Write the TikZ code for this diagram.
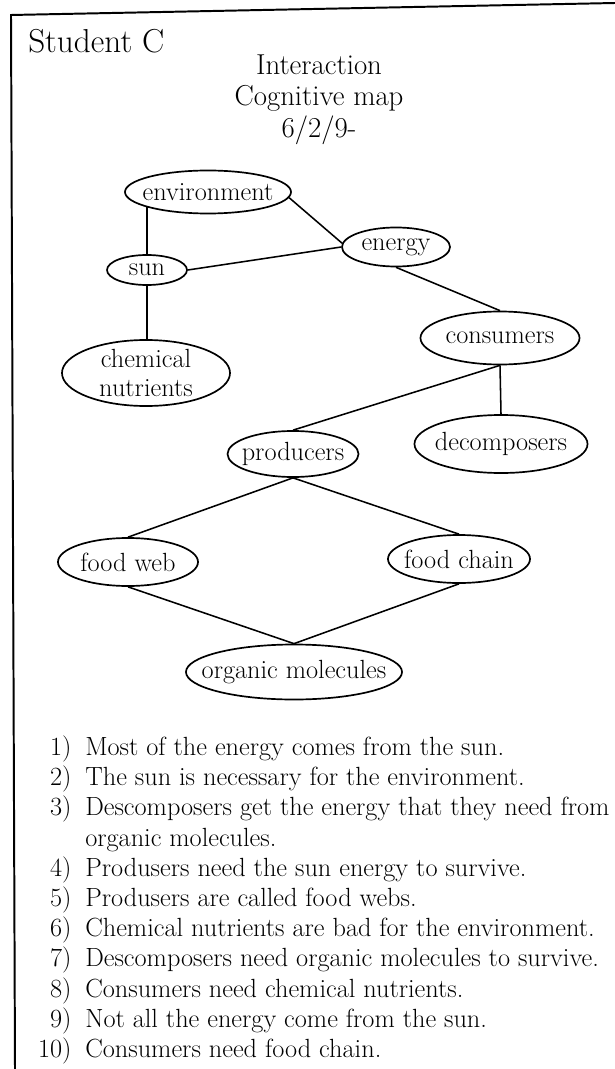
\documentclass[tikz,border=0pt]{standalone}
\usepackage{tikz}
\usetikzlibrary{positioning, shapes.geometric}

\begin{document}
\begin{tikzpicture}[x=0.025cm, y=-0.025cm,
    concept/.style={draw, ellipse, line width=1.2pt, inner xsep=-12pt,
                    inner ysep=-4pt, align=center,
                    font=\fontsize{18.7}{21.3}\selectfont},
    link/.style={line width=1.1pt},
    stmt/.style={anchor=base west, inner sep=0pt,
                 font=\fontsize{18.7}{21}\selectfont},
    num/.style={anchor=base east, inner sep=0pt,
                font=\fontsize{18.7}{21}\selectfont},
    heading/.style={anchor=base, inner sep=0pt,
                    font=\fontsize{20.5}{24}\selectfont}
  ]
  \useasboundingbox (0,0) rectangle (615,1069);
  \draw[line width=1.4pt] (615,3) -- (11,15) -- (15,1069);

  \node[anchor=base west, inner sep=0pt, font=\fontsize{23.6}{28}\selectfont]
    (who) at (28,53) {Student C};
  \node[heading] (t1) at (319,75) {Interaction};
  \node[heading] (t2) at (319,106) {Cognitive map};
  \node[heading] (t3) at (319,138) {6/2/9-};

  % concepts
  \node[concept, minimum width=4.15cm, minimum height=1.075cm] (env) at (208,192) {environment};
  \node[concept, minimum width=2.7cm, minimum height=0.975cm] (energy) at (396,247) {energy};
  \node[concept, minimum width=2.0cm, minimum height=0.75cm] (sun) at (147,270) {sun};
  \node[concept, minimum width=4.2cm, minimum height=1.65cm] (chem) at (146,373) {chemical\\nutrients};
  \node[concept, minimum width=3.975cm, minimum height=1.325cm] (cons) at (500,338) {consumers};
  \node[concept, minimum width=4.325cm, minimum height=1.45cm] (dec) at (501,444) {decomposers};
  \node[concept, minimum width=3.275cm, minimum height=1.15cm] (prod) at (293,454) {producers};
  \node[concept, minimum width=3.5cm, minimum height=1.2cm] (web) at (128,562) {food web};
  \node[concept, minimum width=3.55cm, minimum height=1.2cm] (chain) at (459,559) {food chain};
  \node[concept, minimum width=5.4cm, minimum height=1.375cm] (org) at (294,672) {organic molecules};

  % links
  \draw[link] (sun.north) -- (env.193 -| sun.north);
  \draw[link] (env.356) -- (energy.176);
  \draw[link] (sun.east) -- (energy.west);
  \draw[link] (sun.south) -- (sun.south |- chem.north);
  \draw[link] (energy.south) -- (cons.north);
  \draw[link] (cons.south) -- (dec.north);
  \draw[link] (cons.south) -- (prod.north);
  \draw[link] (prod.south) -- (web.north);
  \draw[link] (prod.south) -- (chain.north);
  \draw[link] (web.south) -- (org.north);
  \draw[link] (chain.south) -- (org.north);

  % statements
  \node[stmt] (s1) at (85,755) {Most of the energy comes from the sun.};
  \node[stmt] (s2) at (85,785) {The sun is necessary for the environment.};
  \node[stmt] (s3) at (85,815) {Descomposers get the energy that they need from};
  \node[stmt] (s3b) at (85,846) {organic molecules.};
  \node[stmt] (s4) at (85,876) {Produsers need the sun energy to survive.};
  \node[stmt] (s5) at (85,906) {Produsers are called food webs.};
  \node[stmt] (s6) at (85,936) {Chemical nutrients are bad for the environment.};
  \node[stmt] (s7) at (85,966) {Descomposers need organic molecules to survive.};
  \node[stmt] (s8) at (85,997) {Consumers need chemical nutrients.};
  \node[stmt] (s9) at (85,1027) {Not all the energy come from the sun.};
  \node[stmt] (s10) at (85,1057) {Consumers need food chain.};

  \node[num, left=0.33cm of s1.base west, anchor=base east] (n1) {1)};
  \node[num, left=0.33cm of s2.base west, anchor=base east] (n2) {2)};
  \node[num, left=0.33cm of s3.base west, anchor=base east] (n3) {3)};
  \node[num, left=0.33cm of s4.base west, anchor=base east] (n4) {4)};
  \node[num, left=0.33cm of s5.base west, anchor=base east] (n5) {5)};
  \node[num, left=0.33cm of s6.base west, anchor=base east] (n6) {6)};
  \node[num, left=0.33cm of s7.base west, anchor=base east] (n7) {7)};
  \node[num, left=0.33cm of s8.base west, anchor=base east] (n8) {8)};
  \node[num, left=0.33cm of s9.base west, anchor=base east] (n9) {9)};
  \node[num, left=0.33cm of s10.base west, anchor=base east] (n10) {10)};
\end{tikzpicture}
\end{document}
